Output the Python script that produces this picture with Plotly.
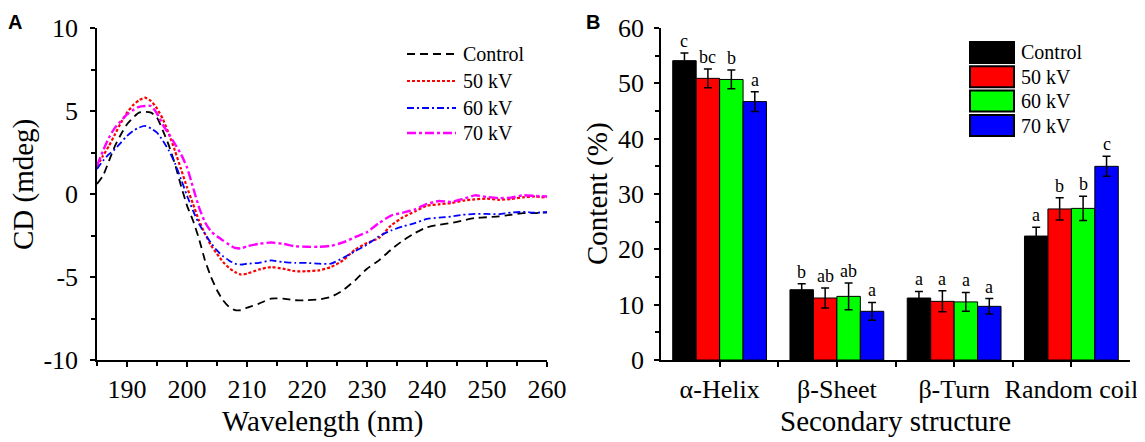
import plotly.graph_objects as go

# ---- panel A : CD spectra ----
wl = [185, 186, 187, 188, 189, 190, 191, 192, 193, 194, 195, 196, 197, 198, 199,
      200, 201, 202, 203, 204, 205, 206, 207, 208, 209, 210, 212, 214, 216, 218,
      220, 222, 224, 226, 228, 230, 232, 234, 236, 238, 240, 242, 244, 246, 248,
      250, 252, 254, 256, 258, 260]

cd_control = [0.6, 1.1, 2.0, 2.9, 3.6, 4.2, 4.6, 4.9, 4.95, 4.9, 4.6, 3.8, 2.9, 1.8, 0.5,
              -0.7, -1.6, -2.7, -4.0, -5.0, -5.8, -6.4, -6.8, -7.0, -7.0, -6.85, -6.6, -6.3, -6.3, -6.4,
              -6.4, -6.35, -6.2, -5.8, -5.2, -4.5, -4.0, -3.35, -2.8, -2.35, -2.0, -1.85, -1.75, -1.6, -1.45,
              -1.4, -1.35, -1.25, -1.15, -1.15, -1.1]
cd_50 = [1.65, 2.3, 2.9, 3.6, 4.3, 4.9, 5.35, 5.65, 5.8, 5.6, 5.15, 4.5, 3.6, 2.6, 1.5,
         0.4, -0.6, -1.6, -2.4, -3.1, -3.6, -4.1, -4.45, -4.7, -4.85, -4.8, -4.55, -4.4, -4.5, -4.65,
         -4.65, -4.6, -4.4, -4.0, -3.35, -2.95, -2.65, -1.9, -1.4, -1.05, -0.7, -0.62, -0.55, -0.4, -0.32,
         -0.28, -0.35, -0.3, -0.2, -0.15, -0.22]
cd_60 = [1.5, 2.0, 2.4, 2.7, 3.1, 3.5, 3.8, 4.0, 4.1, 3.95, 3.7, 3.2, 2.6, 1.85, 0.9,
         -0.1, -1.0, -1.8, -2.4, -2.95, -3.4, -3.75, -4.0, -4.2, -4.25, -4.2, -4.15, -4.0, -4.1, -4.15,
         -4.15, -4.2, -4.2, -3.85, -3.45, -3.05, -2.55, -2.2, -1.95, -1.75, -1.5, -1.42, -1.36, -1.25, -1.2,
         -1.2, -1.22, -1.12, -1.08, -1.12, -1.1]
cd_70 = [1.7, 2.6, 3.4, 4.0, 4.4, 4.8, 5.05, 5.25, 5.3, 5.3, 4.85, 4.15, 3.6, 3.0, 2.4,
         1.6, 0.4, -0.8, -1.7, -2.25, -2.55, -2.8, -3.05, -3.25, -3.28, -3.15, -3.0, -2.92, -3.0, -3.15,
         -3.18, -3.18, -3.12, -2.92, -2.6, -2.3, -1.75, -1.3, -1.12, -0.92, -0.6, -0.42, -0.48, -0.3, -0.08,
         -0.18, -0.25, -0.22, -0.08, -0.12, -0.15]

# ---- panel B : secondary structure ----
structures = ["α-Helix", "β-Sheet", "β-Turn", "Random coil"]
groups = ["Control", "50 kV", "60 kV", "70 kV"]
content = {
    "Control": [54.1, 12.7, 11.2, 22.4],
    "50 kV": [50.9, 11.2, 10.6, 27.3],
    "60 kV": [50.7, 11.5, 10.5, 27.4],
    "70 kV": [46.7, 8.8, 9.7, 35.0],
}
errors = {
    "Control": [1.4, 1.1, 1.2, 1.6],
    "50 kV": [1.7, 1.8, 1.9, 2.0],
    "60 kV": [1.7, 2.4, 1.7, 2.2],
    "70 kV": [1.8, 1.6, 1.4, 1.8],
}
letters = {
    "Control": ["c", "b", "a", "a"],
    "50 kV": ["bc", "ab", "a", "b"],
    "60 kV": ["b", "ab", "a", "b"],
    "70 kV": ["a", "a", "a", "c"],
}
bar_colors = {"Control": "#000000", "50 kV": "#FF0000", "60 kV": "#00FF00", "70 kV": "#0000FF"}

# the page body has an 8px margin, so the figure is shrunk by it and
# positions (given in window pixels) are shifted back
OFF = 8
W, H = 1145 - OFF, 442 - OFF
SERIF = "Liberation Serif"


def px(x):
    return (x - OFF) / W


def py(y):
    return 1 - (y - OFF) / H


fig = go.Figure()

# name, values, colour, dash, width
line_styles = [
    ("Control", cd_control, "#000000", "8px,5px", 1.8),
    ("50 kV", cd_50, "#FF0000", "3px,2px", 2.2),
    ("60 kV", cd_60, "#0000FF", "7px,3px,2px,3px", 1.8),
    ("70 kV", cd_70, "#FF00FF", "9px,3px,3px,3px", 2.4),
]
for name, vals, col, dash, lw in line_styles:
    fig.add_trace(go.Scatter(x=wl, y=vals, name=name, mode="lines", showlegend=False,
                             line=dict(color=col, width=lw, dash=dash, shape="spline", smoothing=0.5),
                             xaxis="x", yaxis="y"))

xpos = list(range(len(structures)))
for g in groups:
    fig.add_trace(go.Bar(x=xpos, y=content[g], name=g, showlegend=False,
                         marker=dict(color=bar_colors[g], line=dict(color="black", width=1)),
                         error_y=dict(type="data", array=errors[g], color="black", thickness=1.5, width=4),
                         xaxis="x2", yaxis="y2"))

# significance letters above error bars
gap = 0.2
bw = (1 - gap) / len(groups)
for i, g in enumerate(groups):
    off = (i - (len(groups) - 1) / 2) * bw
    for j in xpos:
        fig.add_annotation(x=j + off, y=content[g][j] + errors[g][j], xref="x2", yref="y2",
                           text=letters[g][j], showarrow=False, yanchor="bottom", yshift=0,
                           font=dict(family=SERIF, size=18, color="black"))

axis_common = dict(showline=True, linecolor="black", linewidth=1.5, ticks="outside",
                   tickcolor="black", tickwidth=1.5, ticklen=5, showgrid=False, zeroline=False,
                   tickfont=dict(family=SERIF, size=26, color="black"), mirror=False)

ydom = [py(360), py(28)]

fig.update_layout(
    width=W, height=H,
    margin=dict(l=0, r=0, t=0, b=0, autoexpand=False),
    paper_bgcolor="white", plot_bgcolor="white",
    barmode="group", bargap=gap, bargroupgap=0,
    showlegend=False,
    xaxis=dict(domain=[px(97), px(547)], range=[185, 260], tickmode="linear", tick0=190, dtick=10,
               minor=dict(dtick=5, tick0=185, ticks="outside", ticklen=4, tickcolor="black", tickwidth=1.5),
               anchor="y", **axis_common),
    yaxis=dict(domain=ydom, range=[-10, 10], tickvals=[-10, -5, 0, 5, 10],
               ticktext=["-10", "-5", "0", "5", "10"], ticklabelstandoff=7,
               minor=dict(tickvals=[-7.5, -2.5, 2.5, 7.5], ticks="outside", ticklen=4, tickcolor="black", tickwidth=1.5),
               anchor="x", **axis_common),
    xaxis2=dict(domain=[px(661), px(1130)], range=[-0.5, 3.5], tickvals=xpos, ticktext=structures,
                minor=dict(tickvals=[0.5, 1.5, 2.5], ticks="outside", ticklen=5, tickcolor="black", tickwidth=1.5),
                anchor="y2", **axis_common),
    yaxis2=dict(domain=ydom, range=[0, 60], tickmode="linear", tick0=0, dtick=10, ticklabelstandoff=5,
                minor=dict(dtick=5, ticks="outside", ticklen=4, tickcolor="black", tickwidth=1.5),
                anchor="x2", **axis_common),
)

# axis titles
titles = [
    ("Wavelength (nm)", 322, 421, 0),
    ("CD (mdeg)", 24, 185, -90),
    ("Secondary structure", 895, 421, 0),
    ("Content (%)", 597, 194, -90),
]
for txt, x, y, ang in titles:
    fig.add_annotation(x=px(x), y=py(y), xref="paper", yref="paper", text=txt, showarrow=False,
                       textangle=ang, xanchor="center", yanchor="middle",
                       font=dict(family=SERIF, size=29, color="black"))

# panel letters
for txt, x in [("A", 15), ("B", 593)]:
    fig.add_annotation(x=px(x), y=py(8), xref="paper", yref="paper", text="<b>%s</b>" % txt,
                       showarrow=False, xanchor="center", yanchor="top", yshift=-1,
                       font=dict(family="Liberation Sans", size=20, color="black"))

# legend of panel A: line samples
rows_a = [54, 81, 108, 133]
for (name, _, col, dash, lw), yc in zip(line_styles, rows_a):
    fig.add_shape(type="line", xref="paper", yref="paper", x0=px(407), x1=px(456),
                  y0=py(yc), y1=py(yc), line=dict(color=col, width=lw, dash=dash))
    fig.add_annotation(x=px(461), y=py(yc), xref="paper", yref="paper", text=name, showarrow=False,
                       xanchor="left", yanchor="middle", font=dict(family=SERIF, size=20, color="black"))

# legend of panel B: large boxes
rows_b = [52.5, 76.8, 101, 125.5]
for g, yc in zip(groups, rows_b):
    fig.add_shape(type="rect", xref="paper", yref="paper", x0=px(970), x1=px(1014),
                  y0=py(yc + 10.5), y1=py(yc - 10.5), fillcolor=bar_colors[g],
                  line=dict(color="black", width=2))
    fig.add_annotation(x=px(1019), y=py(yc), xref="paper", yref="paper", text=g, showarrow=False,
                       xanchor="left", yanchor="middle", font=dict(family=SERIF, size=20, color="black"))

fig.write_html("out.html")
